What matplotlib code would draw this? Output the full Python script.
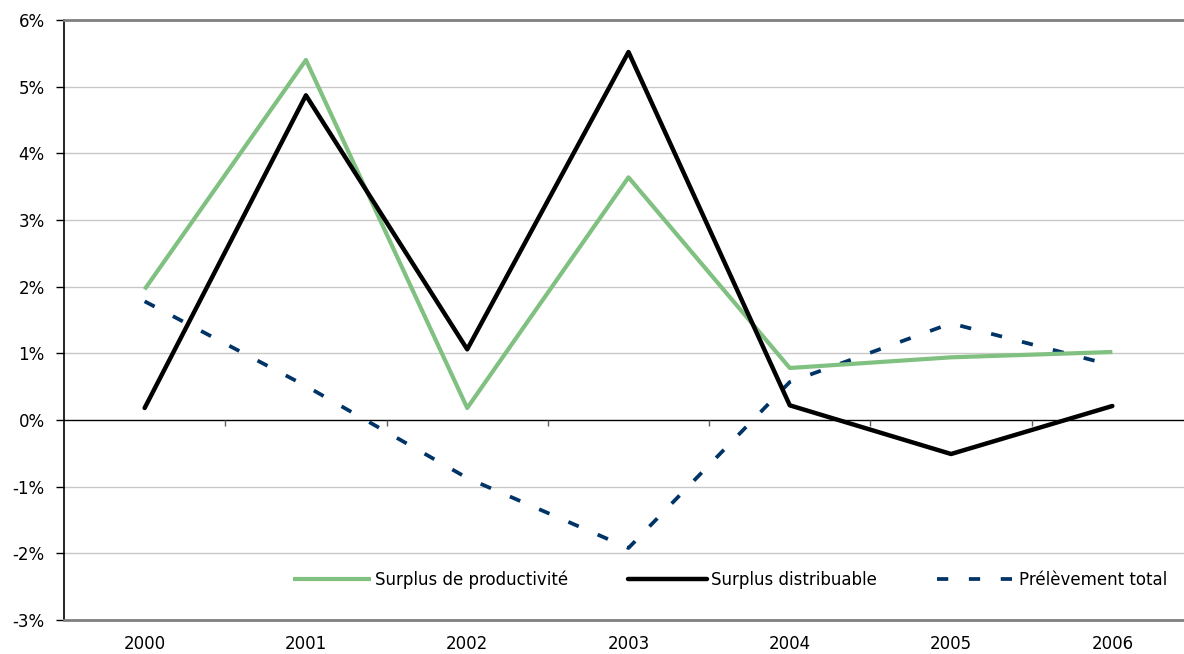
import numpy as np
import matplotlib
matplotlib.use("Agg")
import matplotlib.pyplot as plt

plt.rcParams['font.family'] = ['DejaVu Sans']

# données (%)
annees = ["2000", "2001", "2002", "2003", "2004", "2005", "2006"]
surplus_productivite = [1.96, 5.40, 0.18, 3.64, 0.78, 0.94, 1.02]
surplus_distribuable = [0.18, 4.87, 1.06, 5.52, 0.22, -0.51, 0.21]
prelevement_total = [1.78, 0.51, -0.87, -1.92, 0.57, 1.45, 0.82]

W, H = 1184, 654
fig = plt.figure(figsize=(W / 100, H / 100), dpi=100)
# zone de tracé : x 64 -> 1193 px (débord à droite), y 20 -> 620 px
ax = fig.add_axes([64 / W, (H - 620) / H, 1129 / W, 600 / H])

x = np.arange(len(annees))
ax.plot(x, surplus_productivite, color='#80c080', lw=3.0,
        solid_capstyle='butt', label='Surplus de productivité', zorder=3)
ax.plot(x, surplus_distribuable, color='black', lw=3.2,
        solid_capstyle='round', label='Surplus distribuable', zorder=4)
ax.plot(x, prelevement_total, color='#003366', lw=2.7,
        linestyle=(0, (3.0, 5.5)), dash_capstyle='butt',
        label='Prélèvement total', zorder=2)

ax.set_xlim(-0.5, len(annees) - 0.5)
ax.set_ylim(-3, 6)

# grille horizontale
yt = np.arange(-3, 7)
ax.set_yticks(yt)
ax.set_yticklabels([f"{v}%" for v in yt], fontsize=12)
for v in yt:
    if v not in (-3, 0, 6):
        ax.axhline(v, color='#c8c8c8', lw=1.0, zorder=1)
ax.axhline(0, color='black', lw=1.0, zorder=1.5)
# petites graduations entre catégories sur l'axe 0
ax.vlines(np.arange(0.5, len(annees) - 0.5), -0.09, 0, color='#606060', lw=1.0, zorder=1.5)

ax.tick_params(axis='y', length=6, width=1, color='black', pad=8)
ax.set_xticks(x)
ax.set_xticklabels(annees, fontsize=12)
ax.tick_params(axis='x', length=0, pad=11)

ax.spines['left'].set_color('black')
ax.spines['left'].set_linewidth(1.2)
ax.spines['top'].set_color('#808080')
ax.spines['top'].set_linewidth(2)
ax.spines['bottom'].set_color('#808080')
ax.spines['bottom'].set_linewidth(2)
ax.spines['right'].set_visible(False)

fig.legend(loc='center', bbox_to_anchor=(730 / W, 1 - 580 / H), ncol=3,
           frameon=False, fontsize=12, handlelength=4.7, handletextpad=0.25,
           columnspacing=3.6)

fig.savefig("out.png", dpi=100)
